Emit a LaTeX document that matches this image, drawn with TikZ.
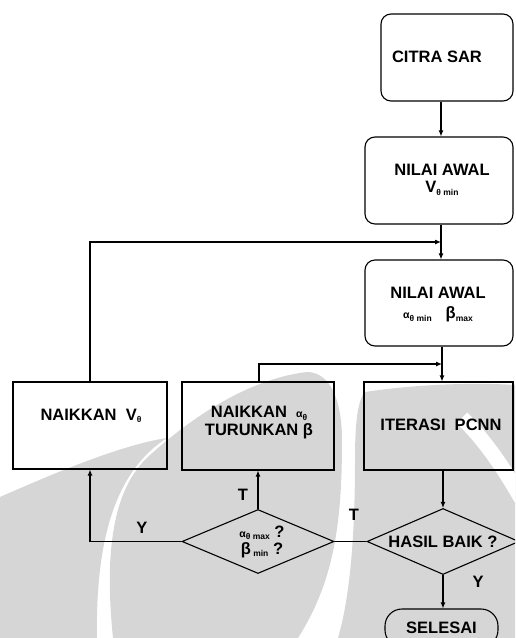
\documentclass[tikz,border=0pt]{standalone}
\usepackage{fontspec}
\setmainfont{Liberation Sans}
\usetikzlibrary{shapes.geometric,arrows.meta}
\definecolor{wm}{gray}{0.84}
\newcommand{\sbs}[1]{\raisebox{-2.5pt}{\fontsize{8.5}{8.5}\selectfont\bfseries #1}}
\newcommand{\smal}{\fontsize{10.5}{10.5}\selectfont}
\begin{document}
\begin{tikzpicture}[x=1pt,y=-1pt,
  font=\fontsize{16.5}{19}\selectfont\bfseries,
  ln/.style={line width=1.1pt},
  arr/.style={ln,-{Latex[length=6pt,width=5pt]}},
  rbox/.style={draw,ln,rounded corners=10pt,minimum width=148pt,minimum height=87pt,inner sep=0pt},
  sbox/.style={draw,ln,minimum height=88pt,inner sep=0pt},
  dia/.style={draw,ln,diamond,inner sep=0pt,aspect=2.3,align=center},
  txt/.style={inner sep=0pt,align=center},
  lab/.style={inner sep=0pt}]
\useasboundingbox (0,0) rectangle (515,638);
\clip (0,0) rectangle (515,638);
% watermark
\fill[wm] (0,497) .. controls (50,475) and (120,445) .. (167,438)
  .. controls (125,465) and (95,520) .. (97,638) -- (0,638) -- cycle;
\fill[wm] (113,638) .. controls (105,560) and (110,490) .. (150,455)
  .. controls (200,410) and (255,378) .. (307,372)
  .. controls (330,372) and (342,400) .. (342,440)
  .. controls (342,520) and (335,580) .. (298,638) -- cycle;
\fill[wm] (338,638) .. controls (352,590) and (355,520) .. (355,460)
  .. controls (355,420) and (358,400) .. (365,392)
  .. controls (410,385) and (470,382) .. (515,385) -- (515,638) -- cycle;
\draw[white,line width=15pt] (462,418) .. controls (485,440) and (505,470) .. (522,500);
% boxes
\node[rbox,minimum width=132pt] (citra) at (447,57.5) {};
\node[rbox] (nilv) at (439,180.5) {};
\node[rbox,minimum height=86pt] (nila) at (439,303) {};
\node[sbox,minimum width=154pt,minimum height=87pt] (naikv) at (90,425.5) {};
\node[sbox,minimum width=152pt] (naika) at (258,426) {};
\node[sbox,minimum width=149pt] (iter) at (438.5,426) {};
\node[dia,minimum width=152pt,minimum height=66pt] (hasil) at (443,541.5) {HASIL BAIK ?};
\node[dia,minimum width=152pt,minimum height=64pt] (alpha) at (258,541.5) {\hspace*{8pt}{\smal α}\sbs{θ max} ?\\[-2pt]\hspace*{8pt}β\sbs{ min} ?};
\node[draw,ln,rounded corners=17pt,minimum width=113pt,minimum height=38pt,inner sep=0pt] (sel) at (441.5,628) {SELESAI};
% texts
\node[txt] (tcitra) at (437,57) {CITRA SAR};
\node[txt] (tnilv) at (442,180) {NILAI AWAL\\[-2pt] V\sbs{θ min}};
\node[txt] (tnila) at (438,305) {NILAI AWAL\\[1pt] {\smal α}\sbs{θ min}\hspace{14pt}β\sbs{max}};
\node[txt] (tnaikv) at (91,416) {NAIKKAN\ \ V\sbs{θ}};
\node[txt] (tnaika) at (259,423) {NAIKKAN\ \ {\smal α}\sbs{θ}\\[-1pt] TURUNKAN\ β};
\node[txt] (titer) at (441,425) {ITERASI\ \ PCNN};
% junctions
\coordinate (j1) at (441,242);
\coordinate (j2) at (442,364);
% connectors
\draw[arr] ([xshift=-6pt]citra.south) -- ([xshift=-6pt]citra.south |- nilv.north);
\draw[arr] ([xshift=2pt]nilv.south) -- ([xshift=2pt]nila.north);
\draw[arr] ([xshift=3pt]nila.south) -- ([xshift=3pt]nila.south |- iter.north);
\draw[arr] (iter.south -| hasil.north) -- (hasil.north);
\draw[arr] (hasil.south) -- (hasil.south |- sel.north);
\draw[ln] (hasil.west) -- (alpha.east);
\draw[arr] (alpha.north) -- (alpha.north |- naika.south);
\draw[arr] (alpha.west) -| (naikv.south);
\draw[arr] (naikv.north) |- (j1);
\draw[arr] ([xshift=1pt]naika.north) |- (j2);
% labels
\node[lab] (lt1) at (243,495) {T};
\node[lab] (lt2) at (354,515) {T};
\node[lab] (ly1) at (142,528) {Y};
\node[lab] (ly2) at (478,582) {Y};
\end{tikzpicture}
\end{document}
